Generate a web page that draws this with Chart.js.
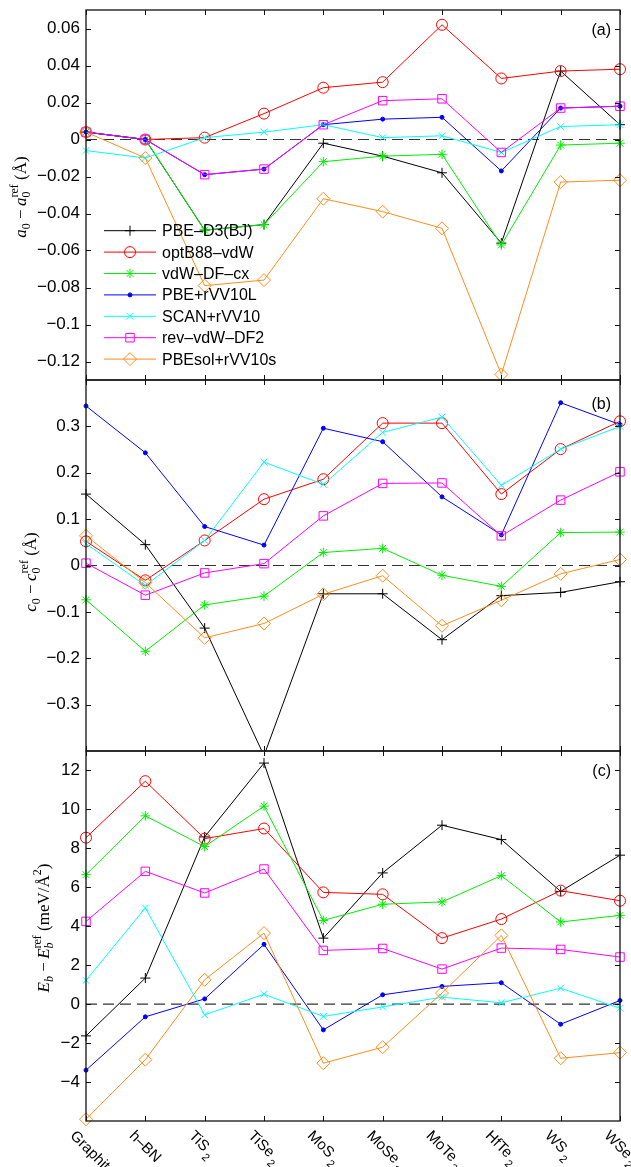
<!DOCTYPE html>
<html>
<head>
<meta charset="utf-8">
<script src="https://cdn.jsdelivr.net/npm/chart.js@4.4.1/dist/chart.umd.min.js"></script>
<style>
  html, body { margin: 0; padding: 0; background: #fff; }
  #wrap { position: relative; width: 631px; height: 1167px; overflow: hidden; }
  #wrap canvas { position: absolute; left: 0; top: 0; }
</style>
</head>
<body>
<div id="wrap">
  <canvas id="panelA" width="631" height="1167"></canvas>
  <canvas id="panelB" width="631" height="1167"></canvas>
  <canvas id="panelC" width="631" height="1167"></canvas>
</div>
<script>
// categories (trailing digit is drawn as a subscript)
const categories = ['Graphite', 'h–BN', 'TiS2', 'TiSe2', 'MoS2', 'MoSe2', 'MoTe2', 'HfTe2', 'WS2', 'WSe2'];
const methods = ['PBE–D3(BJ)', 'optB88–vdW', 'vdW–DF–cx', 'PBE+rVV10L', 'SCAN+rVV10', 'rev–vdW–DF2', 'PBEsol+rVV10s'];

// (a) a0 - a0ref (Å)
const aPBED3  = [0.004, 0, -0.049, -0.046, -0.002, -0.009, -0.018, -0.056, 0.037, 0.008];
const aOptB88 = [0.004, 0, 0.001, 0.014, 0.028, 0.031, 0.062, 0.033, 0.037, 0.038];
const aCx     = [0.004, 0, -0.049, -0.046, -0.012, -0.009, -0.008, -0.057, -0.003, -0.002];
const aRVV10L = [0.004, 0, -0.019, -0.016, 0.008, 0.011, 0.012, -0.017, 0.017, 0.018];
const aSCAN   = [-0.006, -0.010, 0.001, 0.004, 0.008, 0.001, 0.002, -0.007, 0.007, 0.008];
const aRevDF2 = [0.004, 0, -0.019, -0.016, 0.008, 0.021, 0.022, -0.007, 0.017, 0.018];
const aPBEsol = [0.004, -0.010, -0.079, -0.076, -0.032, -0.039, -0.048, -0.127, -0.023, -0.022];

// (b) c0 - c0ref (Å)
const bPBED3  = [0.154, 0.045, -0.135, -0.41, -0.061, -0.061, -0.160, -0.065, -0.058, -0.035];
const bOptB88 = [0.052, -0.032, 0.054, 0.143, 0.186, 0.307, 0.307, 0.154, 0.251, 0.311];
const bCx     = [-0.074, -0.185, -0.085, -0.066, 0.028, 0.037, -0.021, -0.045, 0.071, 0.072];
const bRVV10L = [0.344, 0.243, 0.084, 0.044, 0.296, 0.267, 0.148, 0.066, 0.351, 0.304];
const bSCAN   = [0.047, -0.043, 0.054, 0.223, 0.175, 0.287, 0.320, 0.173, 0.251, 0.300];
const bRevDF2 = [0.005, -0.064, -0.016, 0.004, 0.107, 0.177, 0.178, 0.064, 0.141, 0.202];
const bPBEsol = [0.064, -0.037, -0.156, -0.125, -0.062, -0.022, -0.130, -0.075, -0.018, 0.013];

// (c) Eb - Ebref (meV/Å^2)
const cPBED3  = [-1.63, 1.34, 8.59, 12.38, 3.39, 6.74, 9.19, 8.45, 5.79, 7.65];
const cOptB88 = [8.55, 11.45, 8.50, 9.02, 5.74, 5.64, 3.39, 4.37, 5.83, 5.31];
const cCx     = [6.65, 9.67, 8.09, 10.17, 4.30, 5.13, 5.25, 6.60, 4.22, 4.56];
const cRVV10L = [-3.39, -0.65, 0.27, 3.07, -1.32, 0.48, 0.91, 1.10, -1.03, 0.19];
const cSCAN   = [1.22, 4.94, -0.55, 0.51, -0.63, -0.14, 0.36, 0.07, 0.82, -0.21];
const cRevDF2 = [4.25, 6.82, 5.71, 6.94, 2.76, 2.86, 1.80, 2.88, 2.81, 2.42];
const cPBEsol = [-5.91, -2.85, 1.25, 3.65, -3.03, -2.21, 0.57, 3.53, -2.78, -2.49];

// tick labels
const aTicks = [-0.12, -0.1, -0.08, -0.06, -0.04, -0.02, 0, 0.02, 0.04, 0.06];
const bTicks = [-0.3, -0.2, -0.1, 0, 0.1, 0.2, 0.3];
const cTicks = [-4, -2, 0, 2, 4, 6, 8, 10, 12];

// series styles
const colors = ['#000000', '#ff0000', '#00ee00', '#0000ff', '#00ffff', '#ff00ff', '#ff8c1a'];
const markers = ['cross', 'circle', 'star', 'circle', 'crossRot', 'rect', 'rectRot'];
const markerSizes = [5, 5.5, 4.8, 2, 4.8, 6, 6.5];
const markerFilled = [false, false, false, true, false, false, false];

const SANS = '"Liberation Sans", Arial, Helvetica, sans-serif';
const SERIF = '"Liberation Serif", "DejaVu Serif", serif';

function fmt(v) {
  return (v < 0 ? '\u2212' : '') + String(Math.abs(v));
}

// draws a row of text pieces (sub/superscripts); stack puts a piece over the previous one
function drawRich(ctx, parts, x, y, angle, centered) {
  ctx.save();
  ctx.translate(x, y);
  ctx.rotate(angle);
  let maxX = 0, prevStart = 0;
  const laid = parts.map(p => {
    ctx.font = p.font;
    const w = ctx.measureText(p.t).width;
    const start = p.stack ? prevStart : maxX;
    prevStart = start;
    maxX = Math.max(maxX, start + w);
    return { p, start };
  });
  const off = centered ? -maxX / 2 : 0;
  ctx.textAlign = 'left';
  ctx.textBaseline = 'alphabetic';
  ctx.fillStyle = '#000';
  laid.forEach(l => {
    ctx.font = l.p.font;
    ctx.fillText(l.p.t, l.start + off, (l.p.dy || 0) + (centered ? 5 : 0));
  });
  ctx.restore();
}

const framePlugin = {
  id: 'frame',
  beforeDatasetsDraw(chart) {
    const { ctx, chartArea: a, scales: { y } } = chart;
    const y0 = y.getPixelForValue(0);
    ctx.save();
    ctx.strokeStyle = '#333';
    ctx.lineWidth = 1.2;
    ctx.setLineDash([11, 6]);
    ctx.beginPath();
    ctx.moveTo(a.left, y0);
    ctx.lineTo(a.right, y0);
    ctx.stroke();
    ctx.restore();
  },
  afterDraw(chart, args, opts) {
    const { ctx, chartArea: a, scales: { x, y } } = chart;
    ctx.save();
    ctx.strokeStyle = '#111';
    ctx.lineWidth = 1.3;
    ctx.strokeRect(a.left, a.top, a.right - a.left, a.bottom - a.top);
    ctx.lineWidth = 1;
    ctx.beginPath();
    y.ticks.forEach(t => {
      const py = Math.round(y.getPixelForValue(t.value)) + 0.5;
      ctx.moveTo(a.left, py); ctx.lineTo(a.left + 5, py);
      ctx.moveTo(a.right, py); ctx.lineTo(a.right - 5, py);
    });
    categories.forEach((c, i) => {
      const px = Math.round(x.getPixelForValue(i)) + 0.5;
      ctx.moveTo(px, a.bottom); ctx.lineTo(px, a.bottom - 5);
      ctx.moveTo(px, a.top); ctx.lineTo(px, a.top + 5);
    });
    ctx.stroke();

    // panel tag
    ctx.fillStyle = '#000';
    ctx.font = '16px ' + SANS;
    ctx.textAlign = 'right';
    ctx.textBaseline = 'middle';
    ctx.fillText(opts.tag, a.right - 9, a.top + opts.tagDy);
    ctx.restore();

    // y axis title
    drawRich(ctx, opts.title, opts.titleX, a.top + opts.titleDy, -Math.PI / 2, true);

    // rotated category labels
    if (opts.xLabels) {
      categories.forEach((c, i) => {
        const px = x.getPixelForValue(i);
        const m = c.match(/^(.*?)(\d)$/);
        const parts = m
          ? [{ t: m[1], font: '15px ' + SANS }, { t: '\u2009' + m[2], font: '11px ' + SANS, dy: 6 }]
          : [{ t: c, font: '15px ' + SANS }];
        ctx.save();
        ctx.translate(px - 13, a.bottom + 12);
        ctx.rotate(Math.PI / 4);
        drawRich(ctx, parts, 0, 5, 0, false);
        ctx.restore();
      });
    }

    // legend
    if (opts.legend) {
      ctx.save();
      chart.data.datasets.forEach((ds, i) => {
        const ly = a.top + 220.7 + i * 21.4;
        const x0 = a.left + 18, x1 = a.left + 70;
        ctx.strokeStyle = ds.borderColor;
        ctx.lineWidth = 1;
        ctx.setLineDash([]);
        ctx.beginPath();
        ctx.moveTo(x0, ly); ctx.lineTo(x1, ly);
        ctx.stroke();
        ctx.fillStyle = ds.pointBackgroundColor;
        Chart.helpers.drawPoint(ctx, {
          pointStyle: ds.pointStyle, radius: ds.pointRadius, borderWidth: 1, rotation: 0
        }, (x0 + x1) / 2, ly);
        ctx.fillStyle = '#000';
        ctx.font = '16px ' + SANS;
        ctx.textAlign = 'left';
        ctx.textBaseline = 'middle';
        ctx.fillText(ds.label, a.left + 76, ly + 1);
      });
      ctx.restore();
    }
  }
};

function makePanel(id, p) {
  const datasets = p.series.map((vals, i) => ({
    label: methods[i],
    data: vals,
    borderColor: colors[i],
    borderWidth: 1,
    tension: 0,
    pointStyle: markers[i],
    pointRadius: markerSizes[i],
    pointBorderWidth: 1,
    pointBorderColor: colors[i],
    pointBackgroundColor: markerFilled[i] ? colors[i] : 'rgba(0,0,0,0)',
    clip: p.clip,
    order: p.series.length - i
  }));
  return new Chart(document.getElementById(id), {
    type: 'line',
    data: { labels: categories, datasets },
    plugins: [framePlugin],
    options: {
      responsive: false,
      animation: false,
      events: [],
      layout: { padding: { left: 0, right: 11, top: p.top, bottom: 1167 - p.bottom } },
      plugins: {
        legend: { display: false },
        tooltip: { enabled: false },
        frame: { tag: p.tag, tagDy: p.tagDy, title: p.title, titleX: p.titleX, titleDy: p.titleDy,
                 xLabels: p.xLabels, legend: p.legend }
      },
      scales: {
        x: {
          type: 'category', offset: false,
          grid: { display: false, drawTicks: false }, border: { display: false },
          ticks: { display: false },
          afterFit: s => { s.height = 0; s.paddingLeft = 0; s.paddingRight = 0; }
        },
        y: {
          type: 'linear', min: p.min, max: p.max, bounds: 'data',
          grid: { display: false, drawTicks: false }, border: { display: false },
          afterBuildTicks: s => { s.ticks = p.ticks.map(v => ({ value: v })); },
          afterFit: s => { s.width = 86; s.paddingTop = 0; s.paddingBottom = 0; },
          ticks: {
            color: '#000', padding: 6,
            font: { family: SANS, size: 17 },
            callback: v => fmt(v)
          }
        }
      }
    }
  });
}

const it = s => 'italic ' + s + 'px ' + SERIF;
const rm = s => s + 'px ' + SERIF;

makePanel('panelA', {
  top: 10, bottom: 380, min: -0.13, max: 0.07, ticks: aTicks,
  series: [aPBED3, aOptB88, aCx, aRVV10L, aSCAN, aRevDF2, aPBEsol],
  tag: '(a)', tagDy: 21, legend: true, xLabels: false, clip: false,
  titleX: 21, titleDy: 187,
  title: [
    { t: 'a', font: it(17) }, { t: '0', font: rm(12), dy: 4 },
    { t: ' \u2212\u2009', font: rm(17) },
    { t: 'a', font: it(17) }, { t: '0', font: rm(12), dy: 4 }, { t: 'ref', font: rm(12), dy: -8, stack: true },
    { t: ' (Å)', font: rm(17) }
  ]
});

makePanel('panelB', {
  top: 380, bottom: 751, min: -0.4, max: 0.4, ticks: bTicks,
  series: [bPBED3, bOptB88, bCx, bRVV10L, bSCAN, bRevDF2, bPBEsol],
  tag: '(b)', tagDy: 25, legend: false, xLabels: false,
  clip: { left: 10, right: 10, top: 10, bottom: 0 },
  titleX: 31, titleDy: 192,
  title: [
    { t: 'c', font: it(17) }, { t: '0', font: rm(12), dy: 4 },
    { t: ' \u2212\u2009', font: rm(17) },
    { t: 'c', font: it(17) }, { t: '0', font: rm(12), dy: 4 }, { t: 'ref', font: rm(12), dy: -8, stack: true },
    { t: ' (Å)', font: rm(17) }
  ]
});

makePanel('panelC', {
  top: 751, bottom: 1121, min: -6, max: 13, ticks: cTicks,
  series: [cPBED3, cOptB88, cCx, cRVV10L, cSCAN, cRevDF2, cPBEsol],
  tag: '(c)', tagDy: 21, legend: false, xLabels: true, clip: false,
  titleX: 44, titleDy: 177,
  title: [
    { t: 'E', font: it(17) }, { t: 'b', font: it(12), dy: 4 },
    { t: ' \u2212\u2009', font: rm(17) },
    { t: 'E', font: it(17) }, { t: 'b', font: it(12), dy: 4 }, { t: 'ref', font: rm(12), dy: -8, stack: true },
    { t: ' (meV/Å', font: rm(17) }, { t: '2', font: rm(12), dy: -8 }, { t: ')', font: rm(17) }
  ]
});
</script>
</body>
</html>
